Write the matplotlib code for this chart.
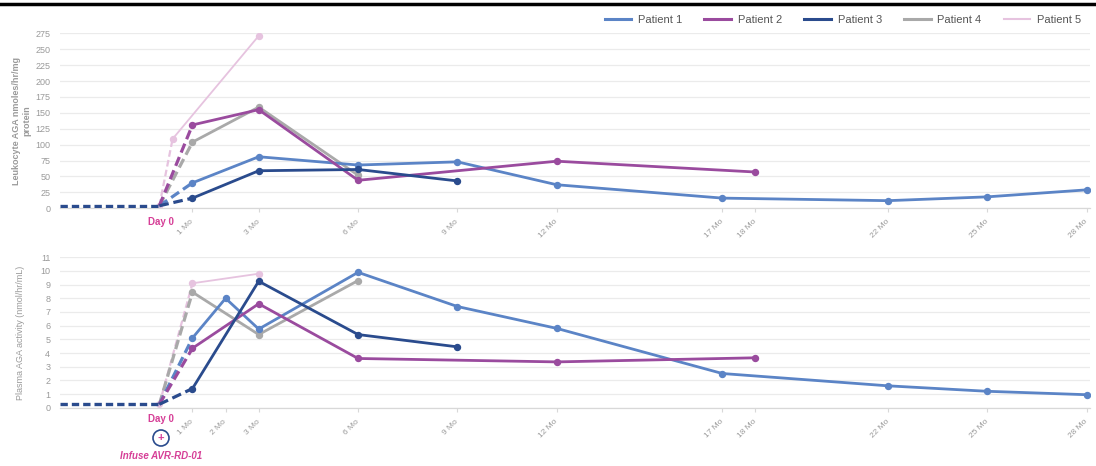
import matplotlib
matplotlib.use("Agg")
import matplotlib.pyplot as plt
from matplotlib.lines import Line2D
from matplotlib.patches import Circle

plt.rcParams['font.family'] = ['Liberation Sans', 'DejaVu Sans']

# ---- data ----
patients = ["Patient 1", "Patient 2", "Patient 3", "Patient 4", "Patient 5"]
colors = ["#5b84c6", "#9a4b9e", "#2a4b8d", "#a9a9a9", "#e6c3df"]

top_tick_months = [1, 3, 6, 9, 12, 17, 18, 22, 25, 28]
top_tick_labels = ["1 Mo", "3 Mo", "6 Mo", "9 Mo", "12 Mo", "17 Mo", "18 Mo", "22 Mo", "25 Mo", "28 Mo"]
bot_tick_months = [1, 2, 3, 6, 9, 12, 17, 18, 22, 25, 28]
bot_tick_labels = ["1 Mo", "2 Mo", "3 Mo", "6 Mo", "9 Mo", "12 Mo", "17 Mo", "18 Mo", "22 Mo", "25 Mo", "28 Mo"]

# Leukocyte AGA (nmoles/hr/mg protein)
top_p1_x = [1, 3, 6, 9, 12, 17, 22, 25, 28]
top_p1_y = [40, 81, 68, 73, 37, 16, 12, 18, 29]
top_p2_x = [1, 3, 6, 12, 18]
top_p2_y = [131, 155, 44, 74, 57]
top_p3_x = [1, 3, 6, 9]
top_p3_y = [16, 59, 61, 43]
top_p4_x = [1, 3, 6]
top_p4_y = [104, 159, 52]
top_p5_x = [0.4, 3]
top_p5_y = [109, 271]
top_baseline = 4

# Plasma AGA activity (nmol/hr/mL)
bot_p1_x = [1, 2, 3, 6, 9, 12, 17, 22, 25, 28]
bot_p1_y = [5.1, 8.0, 5.75, 9.9, 7.4, 5.8, 2.5, 1.6, 1.2, 0.95]
bot_p2_x = [1, 3, 6, 12, 18]
bot_p2_y = [4.35, 7.6, 3.6, 3.35, 3.65]
bot_p3_x = [1, 3, 6, 9]
bot_p3_y = [1.4, 9.25, 5.35, 4.45]
bot_p4_x = [1, 3, 6]
bot_p4_y = [8.45, 5.35, 9.3]
bot_p5_x = [1, 3]
bot_p5_y = [9.1, 9.8]
bot_baseline = 0.25

baseline_start = -3

top_series = [(top_p1_x, top_p1_y), (top_p2_x, top_p2_y), (top_p3_x, top_p3_y),
              (top_p4_x, top_p4_y), (top_p5_x, top_p5_y)]
bot_series = [(bot_p1_x, bot_p1_y), (bot_p2_x, bot_p2_y), (bot_p3_x, bot_p3_y),
              (bot_p4_x, bot_p4_y), (bot_p5_x, bot_p5_y)]

W, H = 1096, 466
fig = plt.figure(figsize=(W / 100, H / 100), dpi=100)

left = 60 / W
width = (1090 - 60) / W
ax_top = fig.add_axes([left, 1 - 208.3 / H, width, 175 / H])
ax_bot = fig.add_axes([left, 1 - 407.7 / H, width, 150.4 / H])

magenta = "#d63f97"
grid_c = "#ebebeb"
txt_c = "#9a9a9a"

zorders = [4, 5, 6, 3, 2]
lws = [2.0, 2.0, 2.0, 2.0, 1.3]


def style(ax, ymax, ystep, ticks, labels):
    ax.set_xlim(-3, 28.1)
    ax.set_ylim(0, ymax)
    yt = [i * ystep for i in range(int(round(ymax / ystep)) + 1)]
    ax.set_yticks(yt)
    ax.set_yticklabels([str(v) for v in yt], fontsize=6.5, color=txt_c)
    ax.yaxis.grid(True, color=grid_c, lw=0.9)
    ax.set_axisbelow(True)
    for s in ["top", "right", "left"]:
        ax.spines[s].set_visible(False)
    ax.spines["bottom"].set_color("#d8d8d8")
    ax.spines["bottom"].set_linewidth(0.9)
    ax.tick_params(axis="y", length=0, pad=7)
    ax.set_xticks(ticks)
    ax.set_xticklabels(labels, rotation=45, ha="right", va="center",
                       rotation_mode="anchor", fontsize=6, color=txt_c)
    ax.tick_params(axis="x", length=3, color="#d8d8d8", pad=6)


def draw(ax, series, baseline):
    # pre-treatment baseline
    ax.plot([baseline_start, 0], [baseline, baseline], color=colors[2], lw=2.4,
            ls=(0, (2.2, 1.2)), zorder=6, solid_capstyle="butt")
    for i, (xs, ys) in enumerate(series):
        c = colors[i]
        ax.plot([0, xs[0]], [baseline, ys[0]], color=c, lw=lws[i] + 0.3,
                ls=(0, (3, 1.5)), zorder=zorders[i])
        ax.plot(xs, ys, color=c, lw=lws[i], marker="o", ms=4.3, zorder=zorders[i])
    ax.plot([0], [baseline], marker="o", ms=4, color="#e6c3df", zorder=1)


draw(ax_top, top_series, top_baseline)
draw(ax_bot, bot_series, bot_baseline)
style(ax_top, 275, 25, top_tick_months, top_tick_labels)
style(ax_bot, 11, 1, bot_tick_months, bot_tick_labels)

ax_top.set_ylabel("Leukocyte AGA nmoles/hr/mg\nprotein", fontsize=6.5, color=txt_c,
                  fontweight="bold", linespacing=1.1)
ax_top.yaxis.set_label_coords(-0.028, 0.5)
ax_bot.set_ylabel("Plasma AGA activity (nmol/hr/mL)", fontsize=6.5, color=txt_c)
ax_bot.yaxis.set_label_coords(-0.034, 0.5)

# Day 0 annotations
fig.text(161 / W, 1 - 222 / H, "Day 0", color=magenta, fontsize=7, fontweight="bold",
         ha="center", va="center")
fig.text(161 / W, 1 - 419 / H, "Day 0", color=magenta, fontsize=7, fontweight="bold",
         ha="center", va="center")
circ = Circle((161, H - 438), 8, transform=None, fill=False, ec=colors[2], lw=1.2)
fig.add_artist(circ)
fig.text(161 / W, 1 - 438.5 / H, "+", color=magenta, fontsize=8, fontweight="bold",
         ha="center", va="center")
fig.text(161 / W, 1 - 456 / H, "Infuse AVR-RD-01", color=magenta, fontsize=7,
         fontweight="bold", style="italic", ha="center", va="center")

# Legend
handles = [Line2D([0], [0], color=colors[i], lw=2.2 if i < 4 else 1.5) for i in range(5)]
leg = fig.legend(handles, patients, loc="upper right", bbox_to_anchor=(1090 / W, 1 - 6 / H),
                 ncol=5, frameon=False, fontsize=8, handlelength=2.4, columnspacing=2.0,
                 handletextpad=0.6, borderpad=0.3)
for t in leg.get_texts():
    t.set_color("#555555")

# top black rule
fig.add_artist(Line2D([0, 1], [1 - 4 / H, 1 - 4 / H], color="black", lw=2.5))

fig.savefig("out.png", dpi=100)
